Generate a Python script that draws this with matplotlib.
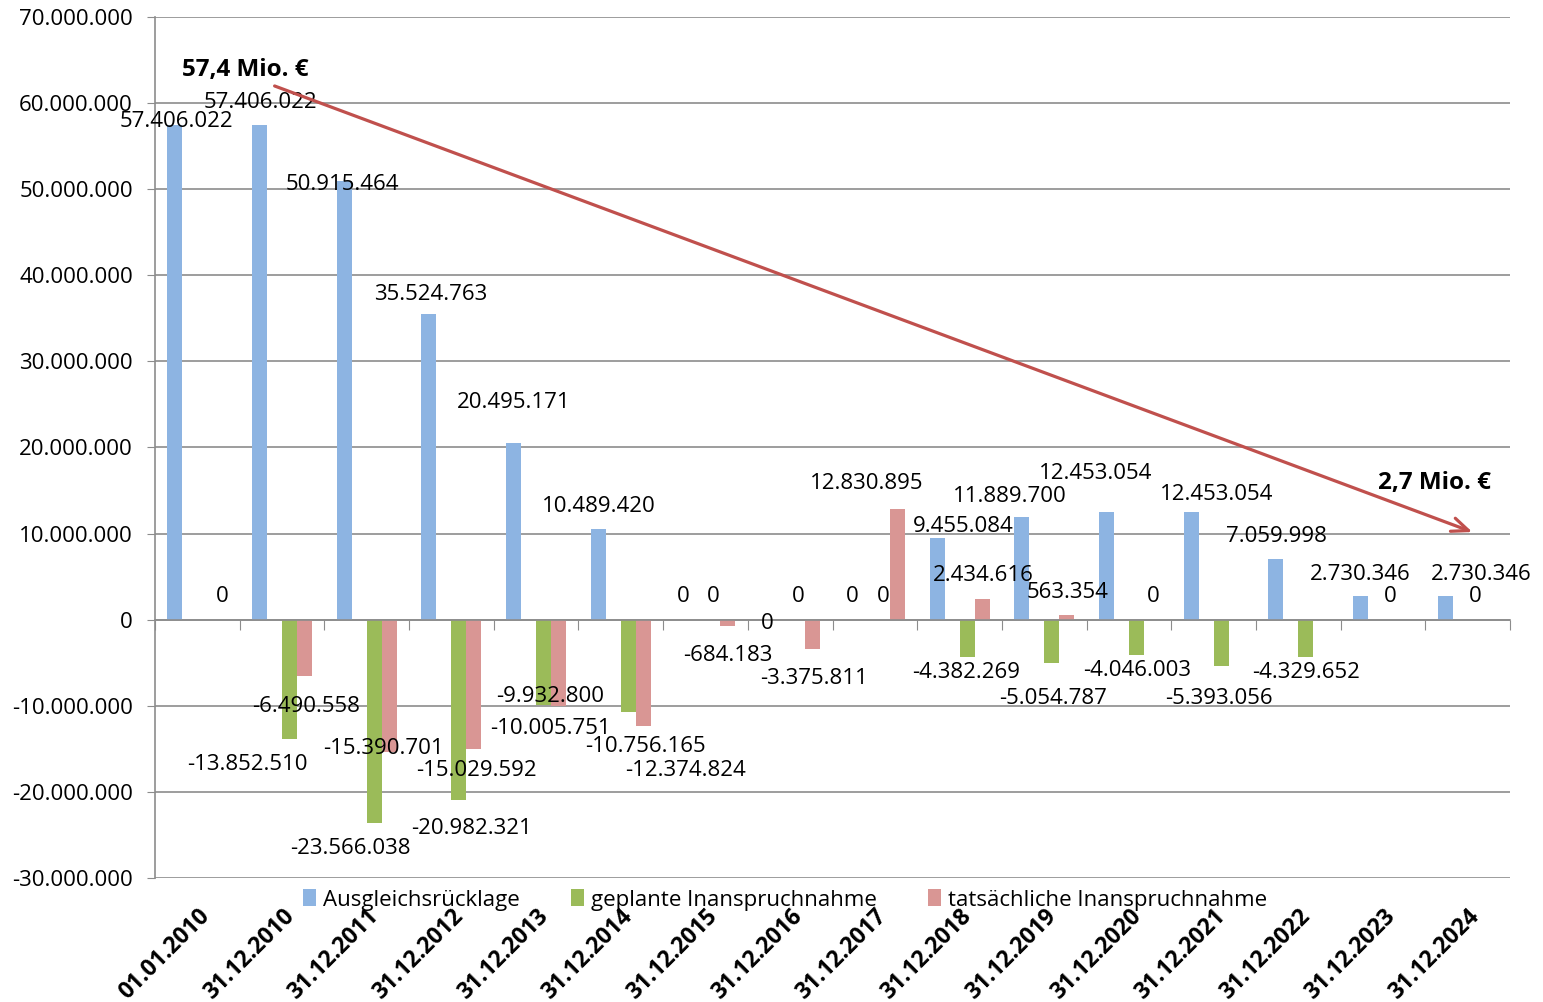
import numpy as np
import matplotlib
matplotlib.use("Agg")
import matplotlib.pyplot as plt

plt.rcParams['font.family'] = ['Open Sans', 'DejaVu Sans']

# --- data -------------------------------------------------------------
dates = ["01.01.2010", "31.12.2010", "31.12.2011", "31.12.2012", "31.12.2013",
         "31.12.2014", "31.12.2015", "31.12.2016", "31.12.2017", "31.12.2018",
         "31.12.2019", "31.12.2020", "31.12.2021", "31.12.2022", "31.12.2023",
         "31.12.2024"]
ruecklage = [57406022, 57406022, 50915464, 35524763, 20495171, 10489420, 0, 0, 0,
             9455084, 11889700, 12453054, 12453054, 7059998, 2730346, 2730346]
geplant = [np.nan, -13852510, -23566038, -20982321, -9932800, -10756165, 0, 0, 0,
           -4382269, -5054787, -4046003, -5393056, -4329652, 0, 0]
tatsaechlich = [0, -6490558, -15390701, -15029592, -10005751, -12374824, -684183,
                -3375811, 12830895, 2434616, 563354, 0, np.nan, np.nan, np.nan, np.nan]
series_names = ["Ausgleichsrücklage", "geplante Inanspruchnahme",
                "tatsächliche Inanspruchnahme"]

# label positions (pixels, y from top)
blue_lab = [(176, 119), (260, 100), (342, 181), (431, 292), (514, 400), (599, 504),
            (683, 594), (767, 621), (852, 594), (963, 524), (1010, 494), (1096, 471),
            (1217, 492), (1276, 533), (1360, 571), (1481, 571)]
green_lab = [None, (247, 762), (350, 845), (471, 825), (550, 694), (645, 744),
             (713, 594), (798, 594), (883, 594), (966, 670), (1053, 696), (1137, 668),
             (1219, 696), (1306, 669), (1390, 594), (1475, 594)]
pink_lab = [(222, 594), (306, 704), (383, 746), (476, 767), (550, 726), (685, 768),
            (728, 653), (814, 676), (867, 481), (983, 573), (1068, 589), (1153, 594),
            None, None, None, None]

colors = ["#8DB4E2", "#9BBB59", "#D99694"]
arrow_col = "#C0504D"
grid_col = "#8C8C8C"
fs = 16

W, H = 1543, 1002
fig = plt.figure(figsize=(W / 100, H / 100), dpi=100)
L, R, T, B = 155, 1510, 17, 878
ax = fig.add_axes([L / W, 1 - B / H, (R - L) / W, (B - T) / H])

n = len(dates)
x = np.arange(n)
ymin, ymax = -30e6, 70e6
ax.set_xlim(-0.5, n - 0.5)
ax.set_ylim(ymin, ymax)


def px2data(p, dy=0):
    px, py = p
    xd = (px - L) / (R - L) * n - 0.5
    yd = ymax - (py + dy - T) / (B - T) * (ymax - ymin)
    return xd, yd


w = 0.177
offs = [-1.5 * w, 0.5 * w, 1.5 * w]
for vals, off, c, name in zip([ruecklage, geplant, tatsaechlich], offs, colors, series_names):
    ax.bar(x + off, vals, width=w, color=c, label=name, zorder=3)


def fmt(v):
    return f"{v:,.0f}".replace(",", ".")


for vals, labs in zip([ruecklage, geplant, tatsaechlich], [blue_lab, green_lab, pink_lab]):
    for v, p in zip(vals, labs):
        if p is None or np.isnan(v):
            continue
        xd, yd = px2data(p, dy=3)
        ax.text(xd, yd, fmt(v), ha='center', va='center', fontsize=fs, zorder=5)

# grid / axes styling
yt = np.arange(-30e6, 70e6 + 1, 10e6)
ax.set_yticks(yt)
ax.set_yticklabels([fmt(v) for v in yt], fontsize=fs)
ax.yaxis.grid(True, color=grid_col, lw=1.2, zorder=0)
for s in ['top', 'right']:
    ax.spines[s].set_visible(False)
ax.spines['left'].set_color(grid_col)
ax.spines['left'].set_linewidth(1.2)
ax.spines['bottom'].set_position(('data', 0))
ax.spines['bottom'].set_color(grid_col)
ax.spines['bottom'].set_linewidth(1.2)
ax.spines['bottom'].set_zorder(4)
ax.tick_params(axis='y', length=6, color=grid_col, pad=10)
ax.set_xticks(np.arange(-0.5, n, 1.0))
ax.set_xticklabels([])
ax.tick_params(axis='x', length=7, color=grid_col, direction='out')

for i, d in enumerate(dates):
    ax.annotate(d, xy=(i + 0.1, ymin), xytext=(0, -25), textcoords='offset points',
                rotation=45, rotation_mode='anchor', ha='right', va='center',
                fontsize=fs + 0.5, fontweight='bold')

# trend arrow
p0 = px2data((272, 85))
p1 = px2data((1475, 533))
ax.annotate("", xy=p1, xytext=p0,
            arrowprops=dict(arrowstyle="->,head_length=1.2,head_width=0.5",
                            color=arrow_col, lw=2.3), zorder=6)
ax.text(*px2data((182, 70)), "57,4 Mio. €", ha='left', va='center',
        fontsize=fs + 1.5, fontweight='bold', zorder=6)
ax.text(*px2data((1434, 483)), "2,7 Mio. €", ha='center', va='center',
        fontsize=fs + 1.5, fontweight='bold', zorder=6)

fig.legend(loc='center', bbox_to_anchor=(785 / W, 1 - 900 / H), ncol=3, frameon=False,
           fontsize=fs, handlelength=0.6, handleheight=0.8, handletextpad=0.3,
           columnspacing=2.3, borderaxespad=0)

fig.savefig("out.png", dpi=100)
